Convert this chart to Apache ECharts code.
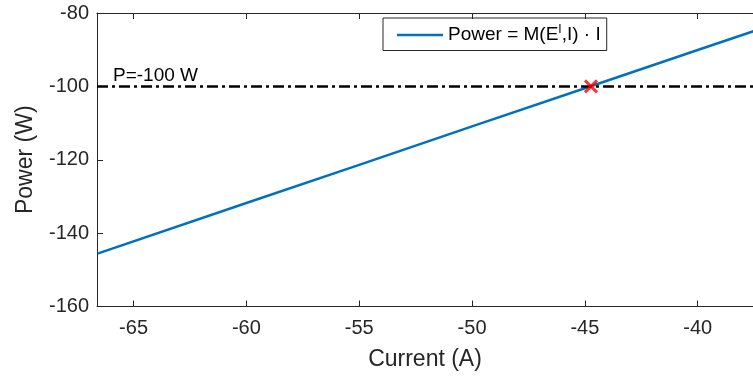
<!DOCTYPE html>
<html>
<head>
<meta charset="utf-8">
<script src="https://cdn.jsdelivr.net/npm/echarts@6/dist/echarts.min.js"></script>
<style>
  html, body { margin: 0; padding: 0; background: #fff; }
  #chart { width: 753px; height: 381px; }
</style>
</head>
<body>
<div id="chart"></div>
<script>
// values
const currentA = [-66.6, -60, -55, -50, -45, -40, -37.5]
const powerW = [-145.6, -131.8, -121.4, -110.9, -100.5, -90.1, -84.9]
const xTicks = [-65, -60, -55, -50, -45, -40]
const yTicks = [-160, -140, -120, -100, -80]
const targetPower = -100
const crossPoint = [-44.73, -100]

const font = 'Liberation Sans, Arial, sans-serif'
const ink = '#262626'

const chart = echarts.init(document.getElementById('chart'))

chart.setOption({
  animation: false,
  textStyle: { fontFamily: font },
  grid: { left: 97, top: 13, right: -1, bottom: 74.5 },
  legend: {
    left: 383,
    top: 18,
    padding: [6, 6, 6, 14],
    borderColor: ink,
    borderWidth: 1,
    itemWidth: 46,
    itemHeight: 2.5,
    icon: 'rect',
    data: ['power'],
    formatter: () => 'Power = M(E{sup|I},I) · I',
    textStyle: {
      fontSize: 19,
      color: '#000',
      fontFamily: font,
      rich: { sup: { fontSize: 12, fontFamily: font, color: '#000', padding: [0, 0, 10, 0] } }
    }
  },
  xAxis: [
    {
      type: 'value',
      min: -66.62,
      max: -37.55,
      name: 'Current (A)',
      nameLocation: 'middle',
      nameGap: 42,
      nameTextStyle: { fontSize: 23, color: ink },
      axisLine: { show: true, lineStyle: { color: ink, width: 1 } },
      axisTick: { inside: true, length: 6, customValues: xTicks, lineStyle: { color: ink } },
      axisLabel: { customValues: xTicks, fontSize: 20, color: ink, margin: 12 },
      splitLine: { show: false }
    },
    {
      type: 'value',
      position: 'top',
      min: -66.62,
      max: -37.55,
      axisLine: { show: true, lineStyle: { color: ink, width: 1 } },
      axisTick: { inside: true, length: 6, customValues: xTicks, lineStyle: { color: ink } },
      axisLabel: { show: false },
      splitLine: { show: false }
    }
  ],
  yAxis: {
    type: 'value',
    min: -160,
    max: -80,
    interval: 20,
    name: 'Power (W)',
    nameLocation: 'middle',
    nameGap: 60,
    nameTextStyle: { fontSize: 23, color: ink },
    axisLine: { show: true, lineStyle: { color: ink, width: 1 } },
    axisTick: { inside: true, length: 6, customValues: yTicks, lineStyle: { color: ink } },
    axisLabel: { customValues: yTicks, fontSize: 20, color: ink, margin: 8 },
    splitLine: { show: false }
  },
  series: [
    {
      name: 'power',
      type: 'line',
      data: currentA.map((c, i) => [c, powerW[i]]),
      symbol: 'none',
      lineStyle: { color: '#0072BD', width: 2.5 },
      itemStyle: { color: '#0072BD' },
      z: 3,
      markLine: {
        silent: true,
        symbol: 'none',
        lineStyle: { color: '#000', width: 2.5, type: [11, 4, 3, 4] },
        label: {
          show: true,
          position: 'insideStartTop',
          formatter: 'P=-100 W',
          fontSize: 19,
          color: '#000',
          fontFamily: font,
          distance: [16, 1]
        },
        data: [{ yAxis: targetPower }]
      }
    },
    {
      name: 'cross',
      type: 'scatter',
      data: [crossPoint],
      symbol: 'path://M0,0 L10,10 M10,0 L0,10',
      symbolSize: 12,
      itemStyle: { color: 'none', borderColor: '#ff0000', borderWidth: 3 },
      z: 5
    }
  ]
})
</script>
</body>
</html>
